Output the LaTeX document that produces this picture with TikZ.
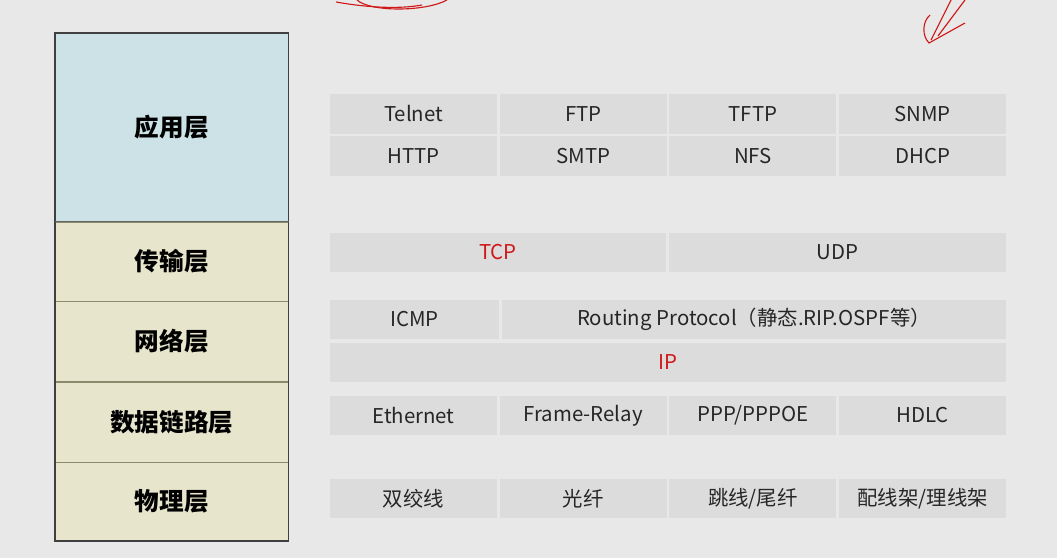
\documentclass[tikz,border=0pt]{standalone}
\usepackage{fontspec}
\setmainfont{Noto Sans CJK SC}
\usetikzlibrary{positioning}
\definecolor{bggray}{HTML}{E8E8E8}
\definecolor{cellgray}{HTML}{DCDCDC}
\definecolor{appblue}{HTML}{CCE2E7}
\definecolor{layerbeige}{HTML}{E7E5CB}
\definecolor{olive}{HTML}{8C8A6C}
\definecolor{penred}{HTML}{D01818}

\begin{document}
\begin{tikzpicture}[x=0.025cm, y=-0.025cm]
	 \tikzset{
	 	layer/.style={draw=olive, thin, minimum width=5.825cm, inner sep=0pt, font=\fontsize{17.5}{20}\selectfont\bfseries},
	 	cell/.style={fill=cellgray, minimum height=0.975cm, minimum width=4.175cm, inner sep=0pt, font=\fontsize{14.5}{17}\selectfont, text=black!85},
	 	hot/.style={text=penred}
	 }

	 \fill[bggray] (0,0) rectangle (1057,558);
	 \useasboundingbox (0,0) rectangle (1057,558);

	 % layers
	 \node[layer, fill=appblue, minimum height=4.7cm, anchor=north west] (app) at (55,33) {应用层};
	 \node[layer, fill=layerbeige, minimum height=1.975cm, below=0pt of app] (trans) {传输层};
	 \node[layer, fill=layerbeige, minimum height=2cm, below=0pt of trans] (net) {网络层};
	 \node[layer, fill=layerbeige, minimum height=2cm, below=0pt of net] (link) {数据链路层};
	 \node[layer, fill=layerbeige, minimum height=1.95cm, below=0pt of link] (phys) {物理层};
	 \draw[black!75, line width=1.2pt] (app.north west) rectangle (phys.south east);
	 \draw[black!60] (app.south west) -- (app.south east);

	 % protocols
	 \foreach \t [count=\i] in {Telnet, FTP, TFTP, SNMP}
	 \node[cell] (appa\i) at ({413.5+(\i-1)*169.7}, 114) {\t};
	 \foreach \t [count=\i] in {HTTP, SMTP, NFS, DHCP}
	 \node[cell] (appb\i) at ({413.5+(\i-1)*169.7}, 156) {\t};

	 \node[cell, hot, minimum width=8.4cm] (tcp) at (498,252.5) {TCP};
	 \node[cell, minimum width=8.425cm] (udp) at (837.5,252.5) {UDP};

	 \node[cell, minimum width=4.225cm] (icmp) at (414.5,319.5) {ICMP};
	 \node[cell, minimum width=12.6cm] (routing) at (754,319.5) {Routing Protocol（静态.RIP.OSPF等）};
	 \node[cell, hot, minimum width=16.9cm] (ip) at (668,362.5) {IP};

	 \foreach \t [count=\i] in {Ethernet, Frame-Relay, PPP/PPPOE, HDLC}
	 \node[cell] (linkp\i) at ({413.5+(\i-1)*169.7}, 415.5) {\t};
	 \foreach \t [count=\i] in {双绞线, 光纤, 跳线/尾纤, 配线架/理线架}
	 \node[cell] (physp\i) at ({413.5+(\i-1)*169.7}, 498.5) {\t};

	 % pen marks
	 \draw[penred, thick] (336,2) .. controls (370,8) and (400,9) .. (422,5);
	 \draw[penred, thick] (357,0) .. controls (370,12) and (425,12) .. (447,0);
	 \draw[penred, thick] (930,15) .. controls (922,22) and (922,36) .. (929,43) -- (965,23);
	 \draw[penred, thick] (965,0) -- (938,36);
	 \draw[penred, thick] (951,0) -- (931,40);
\end{tikzpicture}
\end{document}
